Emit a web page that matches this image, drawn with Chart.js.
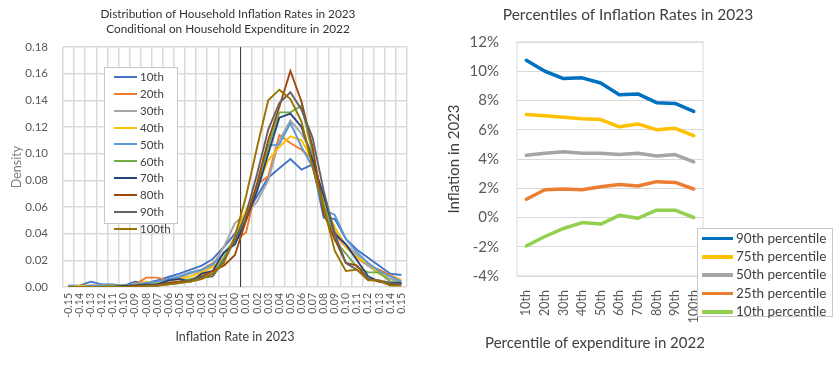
<!DOCTYPE html>
<html>
<head>
<meta charset="utf-8">
<script src="https://cdn.jsdelivr.net/npm/chart.js@4.4.1/dist/chart.umd.min.js"></script>
<style>
	body { margin: 0; background: #fff; font-family: Lato, sans-serif; }
	#wrap { position: relative; width: 840px; height: 365px; overflow: hidden; }
	canvas { position: absolute; top: 0; }
	.title { position: absolute; text-align: center; color: #333; white-space: nowrap; }
	.legend { position: absolute; background: #fff; border: 1px solid #c8c8c8; color: #404040; box-sizing: border-box; }
	.legend div { white-space: nowrap; }
	.legend span { display: inline-block; vertical-align: middle; }
</style>
</head>
<body>
<div id="wrap">
	<canvas id="distChart" width="420" height="365" style="left:0"></canvas>
	<canvas id="pctChart" width="420" height="365" style="left:420px"></canvas>
	<div class="title" style="left:88px;top:6px;width:280px;font-size:11.8px;line-height:15px">Distribution of Household Inflation Rates in 2023<br>Conditional on Household Expenditure in 2022</div>
	<div class="title" style="left:478px;top:4px;width:300px;font-size:15.5px;line-height:20px;color:#404040">Percentiles of Inflation Rates in 2023</div>
	<div class="title" style="left:445px;top:332px;width:300px;font-size:15px;line-height:20px;color:#404040">Percentile of expenditure in 2022</div>
	<div class="legend" id="legendLeft" style="left:104px;top:67px;width:74px;height:157px;font-size:11.5px;line-height:15.5px"></div>
	<div class="legend" id="legendRight" style="left:697px;top:228px;width:136px;height:89px;font-size:13.5px;line-height:17.5px"></div>
</div>

<script>
	// left chart: density of 2023 inflation rate by expenditure decile
	const rateLabels = ['-0.15', '-0.14', '-0.13', '-0.12', '-0.11', '-0.10', '-0.09', '-0.08', '-0.07', '-0.06',
		'-0.05', '-0.04', '-0.03', '-0.02', '-0.01', '0.00', '0.01', '0.02', '0.03', '0.04', '0.05', '0.06',
		'0.07', '0.08', '0.09', '0.10', '0.11', '0.12', '0.13', '0.14', '0.15'];

	const decileNames = ['10th', '20th', '30th', '40th', '50th', '60th', '70th', '80th', '90th', '100th'];
	const decileColors = ['#4472C4', '#ED7D31', '#A5A5A5', '#FFC000', '#5B9BD5', '#70AD47', '#264478', '#9E480E', '#636363', '#997300'];

	const d10 = [0.001, 0.001, 0.004, 0.002, 0.002, 0.001, 0.004, 0.003, 0.005, 0.0075, 0.010, 0.013, 0.016, 0.021, 0.030, 0.040, 0.055, 0.068, 0.082, 0.089, 0.096, 0.088, 0.092, 0.052, 0.051, 0.036, 0.028, 0.022, 0.016, 0.010, 0.009];
	const d20 = [0.000, 0.001, 0.001, 0.001, 0.001, 0.001, 0.002, 0.007, 0.007, 0.005, 0.008, 0.011, 0.013, 0.018, 0.025, 0.035, 0.041, 0.077, 0.083, 0.114, 0.108, 0.103, 0.096, 0.060, 0.040, 0.030, 0.022, 0.016, 0.013, 0.009, 0.005];
	const d30 = [0.000, 0.000, 0.001, 0.001, 0.001, 0.001, 0.001, 0.001, 0.002, 0.004, 0.007, 0.010, 0.012, 0.016, 0.030, 0.048, 0.055, 0.064, 0.080, 0.110, 0.125, 0.115, 0.100, 0.060, 0.042, 0.032, 0.024, 0.016, 0.010, 0.006, 0.003];
	const d40 = [0.000, 0.001, 0.001, 0.001, 0.001, 0.001, 0.002, 0.004, 0.003, 0.005, 0.006, 0.008, 0.011, 0.015, 0.022, 0.038, 0.058, 0.075, 0.095, 0.105, 0.113, 0.110, 0.095, 0.062, 0.045, 0.030, 0.022, 0.018, 0.010, 0.008, 0.005];
	const d50 = [0.001, 0.000, 0.001, 0.001, 0.001, 0.001, 0.002, 0.003, 0.004, 0.006, 0.008, 0.011, 0.013, 0.017, 0.025, 0.035, 0.052, 0.075, 0.106, 0.107, 0.123, 0.105, 0.090, 0.058, 0.054, 0.036, 0.026, 0.018, 0.012, 0.008, 0.004];
	const d60 = [0.000, 0.000, 0.000, 0.000, 0.001, 0.001, 0.001, 0.001, 0.002, 0.003, 0.004, 0.006, 0.008, 0.010, 0.022, 0.035, 0.052, 0.075, 0.105, 0.131, 0.131, 0.136, 0.100, 0.062, 0.035, 0.025, 0.015, 0.011, 0.011, 0.004, 0.003];
	const d70 = [0.000, 0.000, 0.000, 0.000, 0.000, 0.001, 0.001, 0.002, 0.002, 0.005, 0.006, 0.004, 0.010, 0.012, 0.026, 0.032, 0.050, 0.072, 0.100, 0.127, 0.130, 0.120, 0.095, 0.068, 0.040, 0.032, 0.020, 0.008, 0.004, 0.003, 0.003];
	const d80 = [0.000, 0.000, 0.000, 0.000, 0.000, 0.000, 0.001, 0.001, 0.001, 0.003, 0.004, 0.005, 0.008, 0.012, 0.016, 0.024, 0.050, 0.078, 0.110, 0.135, 0.162, 0.139, 0.105, 0.055, 0.036, 0.018, 0.016, 0.006, 0.004, 0.002, 0.002];
	const d90 = [0.000, 0.000, 0.000, 0.000, 0.000, 0.000, 0.000, 0.001, 0.001, 0.002, 0.003, 0.005, 0.007, 0.008, 0.020, 0.035, 0.055, 0.085, 0.118, 0.138, 0.146, 0.133, 0.112, 0.072, 0.040, 0.018, 0.013, 0.006, 0.005, 0.003, 0.002];
	const d100 = [0.000, 0.000, 0.000, 0.000, 0.000, 0.000, 0.000, 0.001, 0.001, 0.002, 0.003, 0.004, 0.006, 0.010, 0.018, 0.038, 0.068, 0.105, 0.140, 0.148, 0.141, 0.124, 0.090, 0.060, 0.027, 0.012, 0.013, 0.005, 0.005, 0.001, 0.001];
	const densities = [d10, d20, d30, d40, d50, d60, d70, d80, d90, d100];

	// right chart: percentiles of 2023 inflation (%) by 2022 expenditure percentile
	const expLabels = ['10th', '20th', '30th', '40th', '50th', '60th', '70th', '80th', '90th', '100th'];
	const pctNames = ['90th percentile', '75th percentile', '50th percentile', '25th percentile', '10th percentile'];
	const pctColors = ['#0070C0', '#FFC000', '#A5A5A5', '#ED7D31', '#92D050'];
	const p90 = [10.75, 10.0, 9.5, 9.55, 9.2, 8.4, 8.45, 7.85, 7.8, 7.25];
	const p75 = [7.05, 6.95, 6.85, 6.75, 6.7, 6.2, 6.4, 6.0, 6.1, 5.6];
	const p50 = [4.25, 4.4, 4.5, 4.4, 4.4, 4.3, 4.4, 4.2, 4.3, 3.8];
	const p25 = [1.25, 1.9, 1.95, 1.9, 2.1, 2.25, 2.15, 2.45, 2.4, 1.95];
	const p10 = [-1.95, -1.3, -0.75, -0.35, -0.45, 0.15, -0.05, 0.5, 0.5, 0.0];
	const percentiles = [p90, p75, p50, p25, p10];

	const gridGray = '#d9d9d9';
	const tickGray = '#595959';

	// vertical black line between the 0.00 and 0.01 categories
	const zeroLine = {
		id: 'zeroLine',
		beforeDatasetsDraw(chart) {
			const x = chart.scales.x;
			const pos = (x.getPixelForValue(15) + x.getPixelForValue(16)) / 2;
			const ctx = chart.ctx;
			ctx.save();
			ctx.strokeStyle = '#404040';
			ctx.lineWidth = 1;
			ctx.beginPath();
			ctx.moveTo(pos, chart.chartArea.top);
			ctx.lineTo(pos, chart.chartArea.bottom);
			ctx.stroke();
			ctx.restore();
		}
	};

	const plotBorder = {
		id: 'plotBorder',
		beforeDatasetsDraw(chart) {
			const a = chart.chartArea;
			const ctx = chart.ctx;
			ctx.save();
			ctx.strokeStyle = gridGray;
			ctx.lineWidth = 1;
			ctx.strokeRect(a.left, a.top, a.right - a.left, a.bottom - a.top);
			ctx.restore();
		}
	};

	new Chart(document.getElementById('distChart'), {
		type: 'line',
		data: {
			labels: rateLabels,
			datasets: densities.map((d, i) => ({
				label: decileNames[i],
				data: d,
				borderColor: decileColors[i],
				backgroundColor: decileColors[i],
				borderWidth: 1.9,
				pointRadius: 0,
				tension: 0,
				order: 10 - i
			}))
		},
		options: {
			responsive: false,
			animation: false,
			layout: { padding: { top: 47, right: 3, left: 0, bottom: 0 } },
			plugins: { legend: { display: false }, tooltip: { enabled: false } },
			scales: {
				x: {
					offset: true,
					grid: { offset: true, color: gridGray, lineWidth: 1.5, drawTicks: false },
					border: { display: false },
					ticks: { autoSkip: false, minRotation: 90, maxRotation: 90, padding: 6, color: tickGray, font: { family: 'Lato', size: 10.5 } },
					title: { display: true, text: 'Inflation Rate in 2023', color: '#404040', font: { family: 'Lato', size: 12.5 }, padding: { top: 0, bottom: 21 } },
					afterFit(scale) { scale.height = 78; }
				},
				y: {
					min: 0,
					max: 0.18,
					grid: { color: gridGray, lineWidth: 1.5, drawTicks: false },
					border: { display: false },
					ticks: { stepSize: 0.02, padding: 15, color: tickGray, font: { family: 'Lato', size: 11.5 }, callback: v => v.toFixed(2) },
					title: { display: true, text: 'Density', color: '#7f7f7f', font: { family: 'Lato', size: 12.5 }, padding: { top: 9, bottom: 0 } },
					afterFit(scale) { scale.width = 63; }
				}
			}
		},
		plugins: [zeroLine]
	});

	new Chart(document.getElementById('pctChart'), {
		type: 'line',
		data: {
			labels: expLabels,
			datasets: percentiles.map((d, i) => ({
				label: pctNames[i],
				data: d,
				borderColor: pctColors[i],
				backgroundColor: pctColors[i],
				borderWidth: 3.5,
				borderCapStyle: 'round',
				borderJoinStyle: 'round',
				pointRadius: 0,
				tension: 0
			}))
		},
		options: {
			responsive: false,
			animation: false,
			layout: { padding: { top: 42, right: 137, left: 0, bottom: 0 } },
			plugins: { legend: { display: false }, tooltip: { enabled: false } },
			scales: {
				x: {
					offset: true,
					grid: { display: false },
					border: { display: false },
					ticks: { autoSkip: false, minRotation: 90, maxRotation: 90, padding: 6, color: tickGray, font: { family: 'Lato', size: 12.5 } },
					afterFit(scale) { scale.height = 89; }
				},
				y: {
					min: -4,
					max: 12,
					grid: { color: gridGray, lineWidth: 1, drawTicks: false },
					border: { display: false },
					ticks: { stepSize: 2, padding: 18, color: tickGray, font: { family: 'Lato', size: 15 }, callback: v => v + '%' },
					title: { display: true, text: 'Inflation in 2023', color: '#404040', font: { family: 'Lato', size: 15 }, padding: { top: 25, bottom: 0 } },
					afterFit(scale) { scale.width = 97; }
				}
			}
		},
		plugins: [plotBorder]
	});

	// legends built from the same names and colours
	function buildLegend(id, names, colors, lineW, lineH, lineLeft) {
		const box = document.getElementById(id);
		names.forEach((n, i) => {
			const row = document.createElement('div');
			row.innerHTML = '<span style="width:' + lineW + 'px;height:' + lineH + 'px;background:' + colors[i] +
				';margin-left:' + lineLeft + 'px;margin-right:3px"></span><span>' + n + '</span>';
			box.appendChild(row);
		});
	}
	buildLegend('legendLeft', decileNames, decileColors, 23, 2, 9);
	buildLegend('legendRight', pctNames, pctColors, 31, 3.5, 4);
</script>
</body>
</html>
